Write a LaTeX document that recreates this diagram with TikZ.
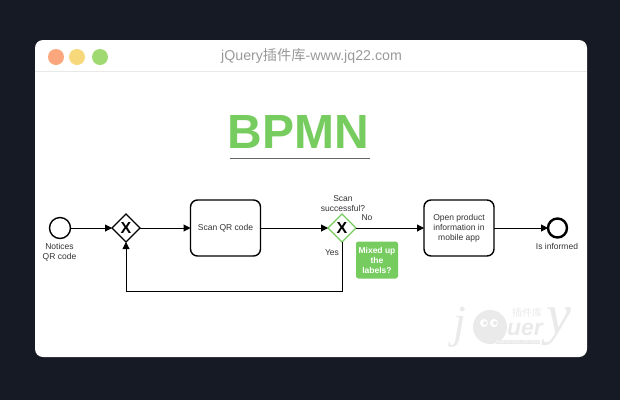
\documentclass[tikz,border=0pt]{standalone}
\usepackage{fontspec}
\setmainfont{Liberation Sans}
\newfontfamily\cjkfont{Noto Sans CJK SC}
\newfontfamily\logoserif{Liberation Serif}
\usetikzlibrary{shapes.geometric, arrows.meta}
\definecolor{pagedark}{HTML}{161A24}
\definecolor{bpmngreen}{HTML}{77CC5F}
\definecolor{dotred}{HTML}{FBA67C}
\definecolor{dotyellow}{HTML}{F7D97C}
\definecolor{dotgreen}{HTML}{A0D972}
\definecolor{headline}{HTML}{E8E8E8}
\definecolor{marklight}{HTML}{EAEAEA}
\tikzset{
    flow/.style={draw=black, line width=1pt, -{Triangle[length=7pt, width=7pt]}},
    taskbox/.style={draw=black, line width=1.4pt, rounded corners=7pt, minimum width=70pt, minimum height=56pt, align=center, font=\fontsize{8.5}{10}\selectfont, text=black!80, inner sep=0pt, outer sep=0pt},
    gate/.style={diamond, draw=#1, fill=white, line width=1.3pt, minimum width=28pt, minimum height=28pt, inner sep=0pt, outer sep=0pt, font=\fontsize{16}{16}\bfseries\selectfont},
    gate/.default=black,
    lbl/.style={align=center, font=\fontsize{8.5}{10}\selectfont, text=black!80, inner sep=0pt},
    dotlight/.style={circle, minimum size=16pt, inner sep=0pt, fill=#1},
    logomark/.style={text=marklight, inner sep=0pt},
    eventring/.style={circle, draw=black, line width=#1, inner sep=0pt, outer sep=0pt}
}
\begin{document}
\begin{tikzpicture}[x=1pt, y=-1pt]
    \useasboundingbox (0,0) rectangle (620,400);
    \fill[pagedark] (0,0) rectangle (620,400);
    \fill[white, rounded corners=8pt] (35,40) rectangle (587,357);
    \draw[headline] (35,71.5) -- (587,71.5);

    \node[dotlight=dotred] (dot_1) at (56,57) {};
    \node[dotlight=dotyellow] (dot_2) at (77,57) {};
    \node[dotlight=dotgreen] (dot_3) at (100,57) {};
    \node[text=black!40, inner sep=0pt, font=\fontsize{14.2}{16}\selectfont] (pagetitle) at (311.5,56.5) {jQuery{\cjkfont 插件库}-www.jq22.com};

    \node[logomark, font=\fontsize{46}{46}\selectfont\logoserif\itshape] (mark_j) at (460,327) {j};
    \node[circle, fill=marklight, minimum size=34pt, inner sep=0pt] (mark_o) at (490,327) {};
    \node[circle, fill=white, minimum size=8pt, inner sep=0pt] (mark_eye1) at (484,323) {};
    \node[circle, fill=white, minimum size=8pt, inner sep=0pt] (mark_eye2) at (494,323) {};
    \node[circle, fill=marklight, minimum size=4pt, inner sep=0pt] (mark_pupil1) at (485,323) {};
    \node[circle, fill=marklight, minimum size=4pt, inner sep=0pt] (mark_pupil2) at (495,323) {};
    \node[logomark, font=\fontsize{23}{23}\bfseries\itshape\selectfont] (mark_uer) at (525,329) {uer};
    \node[logomark, font=\fontsize{10}{10}\selectfont\cjkfont] (mark_cjk) at (527,313) {插件库};
    \node[logomark, font=\fontsize{56}{56}\selectfont\logoserif\itshape] (mark_y) at (559,327) {y};
    \node[fill=marklight, text=white, inner sep=0.5pt, font=\fontsize{4.5}{5}\itshape\selectfont] (mark_tag) at (518,342) {look for less, do more};

    \node[text=bpmngreen, inner sep=0pt, font=\fontsize{48}{48}\bfseries\selectfont] (heading) at (298.5,131.5) {BPMN};
    \coordinate (rule_1) at (230,158);
    \coordinate (rule_2) at (370,158);
    \draw[black!60, line width=0.9pt] (rule_1) -- (rule_2);

    \node[eventring=1.4pt, minimum size=21pt] (start) at (60,228) {};
    \node[gate] (gate_1) at (126,228) {X};
    \node[taskbox] (scan) at (225.5,228) {Scan QR code};
    \node[gate=bpmngreen] (gate_2) at (342,228) {X};
    \node[taskbox] (open) at (459,228) {Open product\\information in\\mobile app};
    \node[eventring=2.4pt, minimum size=19pt] (stop) at (557.5,228) {};

    \node[lbl] (start_lbl) at (59.5,252) {Notices\\QR code};
    \node[lbl] (gate_lbl) at (343,204) {Scan\\successful?};
    \node[lbl] (no_lbl) at (367,217.5) {No};
    \node[lbl] (yes_lbl) at (332,252.5) {Yes};
    \node[lbl] (stop_lbl) at (557,246) {Is informed};

    \node[fill=bpmngreen, text=white, rounded corners=2.5pt, minimum width=42pt, minimum height=37pt, inner sep=0pt, align=center, font=\fontsize{8.5}{10}\bfseries\selectfont] (note) at (377,260) {Mixed up\\the\\labels?};

    \draw[flow] (start) -- (gate_1);
    \draw[flow] (gate_1) -- (scan);
    \draw[flow] (scan) -- (gate_2);
    \draw[flow] (gate_2) -- (open);
    \draw[flow] (open) -- (stop);
    \draw[flow] (gate_2.south) -- ++(0,49) -| (gate_1.south);
\end{tikzpicture}
\end{document}
